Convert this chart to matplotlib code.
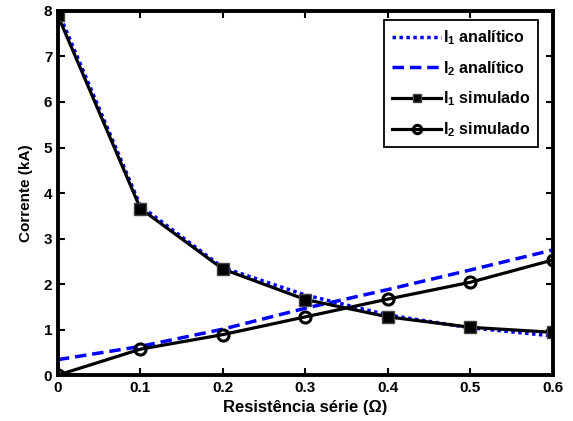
import matplotlib
matplotlib.use("Agg")
import matplotlib.pyplot as plt

plt.rcParams['font.family'] = ['Liberation Sans', 'DejaVu Sans']
plt.rcParams['font.weight'] = 'bold'
plt.rcParams['mathtext.fontset'] = 'custom'
plt.rcParams['mathtext.rm'] = 'Liberation Sans:bold'
plt.rcParams['mathtext.bf'] = 'Liberation Sans:bold'
plt.rcParams['mathtext.it'] = 'Liberation Sans:bold'

# Series resistance (ohm) and currents (kA)
resistencia = [0.0, 0.1, 0.2, 0.3, 0.4, 0.5, 0.6]
i1_analitico = [8.0, 3.72, 2.36, 1.76, 1.32, 1.04, 0.86]
i2_analitico = [0.34, 0.63, 1.01, 1.47, 1.88, 2.31, 2.75]
i1_simulado = [7.9, 3.66, 2.33, 1.66, 1.28, 1.05, 0.94]
i2_simulado = [0.0, 0.57, 0.89, 1.28, 1.67, 2.04, 2.53]

xticks = [0, 0.1, 0.2, 0.3, 0.4, 0.5, 0.6]
xticklabels = ['0', '0.1', '0.2', '0.3', '0.4', '0.5', '0.6']
yticks = [0, 1, 2, 3, 4, 5, 6, 7, 8]

fig = plt.figure(figsize=(5.73, 4.21), dpi=100)
ax = fig.add_axes([0.101, 0.109, 0.864, 0.865])

ax.plot(resistencia, i1_analitico, color='#0000ff', linestyle=(0, (1, 1)), linewidth=2.5,
        dash_capstyle='butt', label=r'I$_1$ analítico')
ax.plot(resistencia, i2_analitico, color='#0000ff', linestyle=(0, (3.3, 1.7)), linewidth=2.5,
        label=r'I$_2$ analítico')
ax.plot(resistencia, i1_simulado, color='black', linewidth=2.3, marker='s', markersize=8,
        markerfacecolor='black', markeredgecolor='#444444', markeredgewidth=1.0,
        label=r'I$_1$ simulado')
ax.plot(resistencia, i2_simulado, color='black', linewidth=2.3, marker='o', markersize=8,
        markerfacecolor='none', markeredgecolor='black', markeredgewidth=2.2,
        label=r'I$_2$ simulado')

ax.set_xlim(0, 0.6)
ax.set_ylim(0, 8)
ax.set_xticks(xticks)
ax.set_xticklabels(xticklabels)
ax.set_yticks(yticks)
ax.tick_params(direction='in', top=True, right=True, length=5, width=1.5,
               labelsize=11, pad=4)
for lbl in ax.get_xticklabels() + ax.get_yticklabels():
    lbl.set_fontweight('bold')
for sp in ax.spines.values():
    sp.set_linewidth(2.8)

ax.set_xlabel('Resistência série (Ω)', fontsize=12, fontweight='bold', labelpad=4)
ax.set_ylabel('Corrente (kA)', fontsize=11, fontweight='bold', labelpad=8)

leg = ax.legend(loc='upper right', bbox_to_anchor=(0.977, 0.983), fontsize=11.5,
                frameon=True, fancybox=False, edgecolor='black', framealpha=1,
                handlelength=3.1, handletextpad=0.1, labelspacing=0.75,
                borderpad=0.5, borderaxespad=0.2, markerscale=0.75)
leg.get_frame().set_linewidth(1.3)
for t in leg.get_texts():
    t.set_fontweight('bold')

fig.savefig('out.png', dpi=100)
